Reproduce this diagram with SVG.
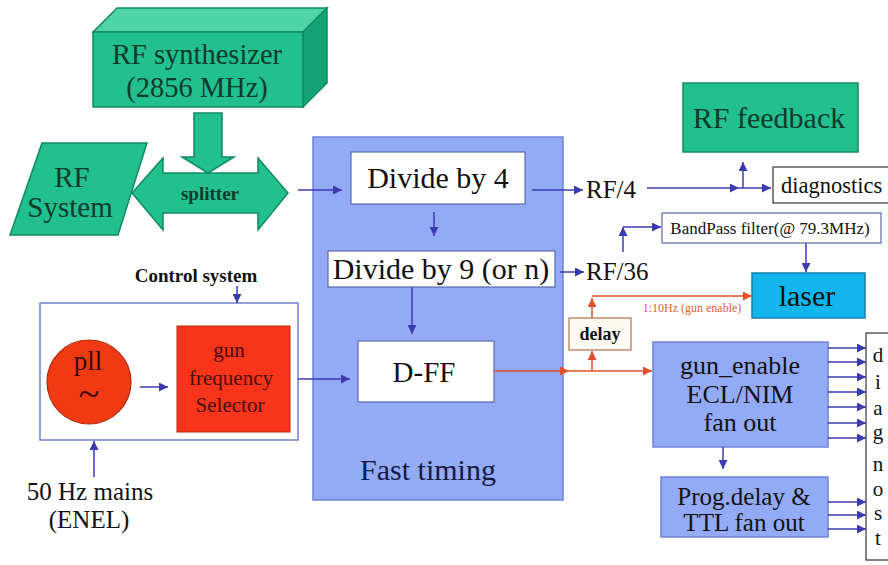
<svg xmlns="http://www.w3.org/2000/svg" width="888" height="565" viewBox="0 0 888 565" font-family="'Liberation Serif', 'DejaVu Serif', 'Times New Roman', serif">
<defs>
<style>
text{font-family:"Liberation Serif","DejaVu Serif","Times New Roman",serif;fill:#111}
.big{font-size:30px}
.mid{font-size:26px}
.gt{fill:#0e3a2c}
.green{fill:#22c08e;stroke:#0f8a62;stroke-width:1.5}
.bluebox{fill:#93aaf7;stroke:#6f82d8;stroke-width:1.5}
.white{fill:#fff;stroke:#5a6aa8;stroke-width:1.2}
.bl{stroke:#3b3bb0;stroke-width:1.5;fill:none}
.rd{stroke:#e0502a;stroke-width:1.5;fill:none}
.dg{font-size:21px}
.sel{font-size:21px;fill:#4a0c0c}
</style>
<marker id="ab" viewBox="0 0 10 10" refX="10" refY="5" markerWidth="10" markerHeight="9" markerUnits="userSpaceOnUse" orient="auto"><path d="M0,0L10,5L0,10z" fill="#3b3bb0"/></marker>
<marker id="ar" viewBox="0 0 10 10" refX="10" refY="5" markerWidth="10" markerHeight="9" markerUnits="userSpaceOnUse" orient="auto"><path d="M0,0L10,5L0,10z" fill="#e0502a"/></marker>
</defs>
<rect width="888" height="565" fill="#fff"/>

<g id="fast-timing">
<rect class="bluebox" x="313" y="137" width="250" height="363"/>
<text class="big" x="428" y="480" text-anchor="middle" style="fill:#151a40">Fast timing</text>
</g>

<g id="rf-synthesizer">
<polygon points="93,32 117,8 327,8 303,32" fill="#4fd4a8" stroke="#0f8a62" stroke-width="1.5"/>
<polygon points="303,32 327,8 327,83 303,107" fill="#15a377" stroke="#0f8a62" stroke-width="1.5"/>
<rect class="green" x="93" y="32" width="210" height="75"/>
<text class="gt" x="197" y="64" text-anchor="middle" style="font-size:28.5px">RF synthesizer</text>
<text class="gt" x="197" y="97" text-anchor="middle" style="font-size:28.5px">(2856 MHz)</text>
</g>

<g id="synth-arrow">
<polygon class="green" points="194,113 222,113 222,157 234,157 208,173 182,157 194,157"/>
</g>

<g id="splitter">
<polygon class="green" points="132,193 163,158 163,173 258,173 258,158 288,193 258,230 258,213 163,213 163,230"/>
<text class="gt" x="210" y="200" text-anchor="middle" font-weight="bold" style="font-size:19px">splitter</text>
</g>

<g id="rf-system">
<polygon class="green" points="42,143 147,143 118,235 10,235"/>
<text class="gt" x="72" y="187" text-anchor="middle" style="font-size:29px">RF</text>
<text class="gt" x="70" y="217" text-anchor="middle" style="font-size:29px">System</text>
</g>

<g id="divide4">
<rect class="white" x="351" y="152" width="174" height="52"/>
<text class="big" x="438" y="188" text-anchor="middle">Divide by 4</text>
</g>

<g id="divide9">
<rect class="white" x="328" y="251" width="227" height="36"/>
<text class="big" x="441" y="279" text-anchor="middle">Divide by 9 (or n)</text>
</g>

<g id="dff">
<rect class="white" x="358" y="341" width="136" height="61"/>
<text x="424" y="382" text-anchor="middle" style="font-size:29px">D-FF</text>
</g>

<g id="rf4-label"><text x="586" y="198" style="font-size:25px">RF/4</text></g>
<g id="rf36-label"><text x="586" y="280" style="font-size:25px">RF/36</text></g>

<g id="rf-feedback">
<rect class="green" x="683" y="83" width="175" height="69"/>
<text class="big gt" x="769" y="128" text-anchor="middle">RF feedback</text>
</g>

<g id="diagnostics">
<rect fill="#fff" stroke="#333" stroke-width="1.2" x="773" y="167" width="118" height="36"/>
<text x="781" y="193" style="font-size:22.5px">diagnostics</text>
</g>

<g id="bandpass">
<rect class="white" x="662" y="213" width="219" height="30"/>
<text x="770" y="234" text-anchor="middle" style="font-size:17px">BandPass filter(@ 79.3MHz)</text>
</g>

<g id="laser">
<rect x="752" y="273" width="113" height="45" fill="#12b6ee" stroke="#1a7fb0" stroke-width="1.5"/>
<text x="807" y="306" text-anchor="middle" style="font-size:30px">laser</text>
</g>

<g id="delay">
<rect x="569" y="318" width="62" height="32" fill="#fffaf2" stroke="#b07050" stroke-width="1.2"/>
<text x="600" y="340" text-anchor="middle" font-weight="bold" style="font-size:18px">delay</text>
</g>

<g id="gun-enable">
<rect class="bluebox" x="653" y="342" width="175" height="105"/>
<text class="mid" x="740" y="374" text-anchor="middle">gun_enable</text>
<text class="mid" x="740" y="403" text-anchor="middle">ECL/NIM</text>
<text class="mid" x="740" y="431" text-anchor="middle">fan out</text>
</g>

<g id="prog-delay">
<rect class="bluebox" x="661" y="477" width="167" height="60"/>
<text x="744" y="505" text-anchor="middle" style="font-size:25px">Prog.delay &amp;</text>
<text x="744" y="531" text-anchor="middle" style="font-size:25px">TTL fan out</text>
</g>

<g id="diagnost">
<rect fill="#fff" stroke="#333" stroke-width="1.2" x="866" y="333" width="26" height="227"/>
<g text-anchor="middle">
<text class="dg" x="878" y="362">d</text>
<text class="dg" x="878" y="389">i</text>
<text class="dg" x="878" y="415">a</text>
<text class="dg" x="878" y="439">g</text>
<text class="dg" x="878" y="471">n</text>
<text class="dg" x="878" y="496">o</text>
<text class="dg" x="878" y="520">s</text>
<text class="dg" x="878" y="545">t</text>
</g>
</g>

<g id="control-system">
<text x="196" y="282" text-anchor="middle" font-weight="bold" style="font-size:19px">Control system</text>
<rect fill="#fff" stroke="#6f7fc8" stroke-width="1.5" x="40" y="303" width="258" height="137"/>
</g>

<g id="pll">
<circle cx="89" cy="382" r="42" fill="#f03a14" stroke="#b02a10" stroke-width="1.2"/>
<text x="88" y="370" text-anchor="middle" style="font-size:27px;fill:#3a0808">pll</text>
<text x="89" y="406" text-anchor="middle" style="font-size:38px;fill:#3a0808">~</text>
</g>

<g id="gun-freq-selector">
<rect x="177" y="326" width="113" height="106" fill="#f8341a" stroke="#c02810" stroke-width="1"/>
<g text-anchor="middle">
<text class="sel" x="229" y="357">gun</text>
<text class="sel" x="231" y="385">frequency</text>
<text class="sel" x="230" y="412">Selector</text>
</g>
</g>

<g id="mains">
<text x="90" y="500" text-anchor="middle" style="font-size:25px">50 Hz mains</text>
<text x="89" y="528" text-anchor="middle" style="font-size:25px">(ENEL)</text>
</g>

<g id="gun-enable-label">
<text x="692" y="312" text-anchor="middle" style="font-size:12px;fill:#e0603a">1:10Hz (gun enable)</text>
</g>

<g id="connectors">
<line class="bl" x1="298" y1="190" x2="342" y2="190" marker-end="url(#ab)"/>
<line class="bl" x1="434" y1="212" x2="434" y2="236" marker-end="url(#ab)"/>
<line class="bl" x1="412" y1="287" x2="412" y2="334" marker-end="url(#ab)"/>
<line class="bl" x1="532" y1="190" x2="583" y2="190" marker-end="url(#ab)"/>
<line class="bl" x1="560" y1="272" x2="584" y2="272" marker-end="url(#ab)"/>
<line class="bl" x1="647" y1="188" x2="739" y2="188" marker-end="url(#ab)"/>
<line class="bl" x1="739" y1="188" x2="771" y2="188" marker-end="url(#ab)"/>
<line class="bl" x1="743" y1="188" x2="743" y2="162" marker-end="url(#ab)"/>
<line class="bl" x1="623" y1="252" x2="623" y2="227" marker-end="url(#ab)"/>
<line class="bl" x1="623" y1="227" x2="661" y2="227" marker-end="url(#ab)"/>
<line class="bl" x1="806" y1="243" x2="806" y2="272" marker-end="url(#ab)"/>
<line class="bl" x1="237" y1="286" x2="237" y2="303" marker-end="url(#ab)"/>
<line class="bl" x1="140" y1="387" x2="168" y2="387" marker-end="url(#ab)"/>
<line class="bl" x1="298" y1="379" x2="350" y2="379" marker-end="url(#ab)"/>
<line class="bl" x1="94" y1="477" x2="94" y2="441" marker-end="url(#ab)"/>
<line class="bl" x1="723" y1="447" x2="723" y2="469" marker-end="url(#ab)"/>
<line class="bl" x1="828" y1="348" x2="866" y2="348" marker-end="url(#ab)"/>
<line class="bl" x1="828" y1="362" x2="866" y2="362" marker-end="url(#ab)"/>
<line class="bl" x1="828" y1="377" x2="866" y2="377" marker-end="url(#ab)"/>
<line class="bl" x1="828" y1="392" x2="866" y2="392" marker-end="url(#ab)"/>
<line class="bl" x1="828" y1="407" x2="866" y2="407" marker-end="url(#ab)"/>
<line class="bl" x1="828" y1="423" x2="866" y2="423" marker-end="url(#ab)"/>
<line class="bl" x1="828" y1="438" x2="866" y2="438" marker-end="url(#ab)"/>
<line class="bl" x1="828" y1="502" x2="866" y2="502" marker-end="url(#ab)"/>
<line class="bl" x1="828" y1="515" x2="866" y2="515" marker-end="url(#ab)"/>
<line class="bl" x1="828" y1="529" x2="866" y2="529" marker-end="url(#ab)"/>
<line class="rd" x1="494" y1="371" x2="569" y2="371" marker-end="url(#ar)"/>
<line class="rd" x1="569" y1="371" x2="652" y2="371" marker-end="url(#ar)"/>
<line class="rd" x1="592" y1="371" x2="592" y2="351" marker-end="url(#ar)"/>
<line class="rd" x1="592" y1="318" x2="592" y2="298" marker-end="url(#ar)"/>
<line class="rd" x1="592" y1="296" x2="752" y2="296" marker-end="url(#ar)"/>
</g>
</svg>
